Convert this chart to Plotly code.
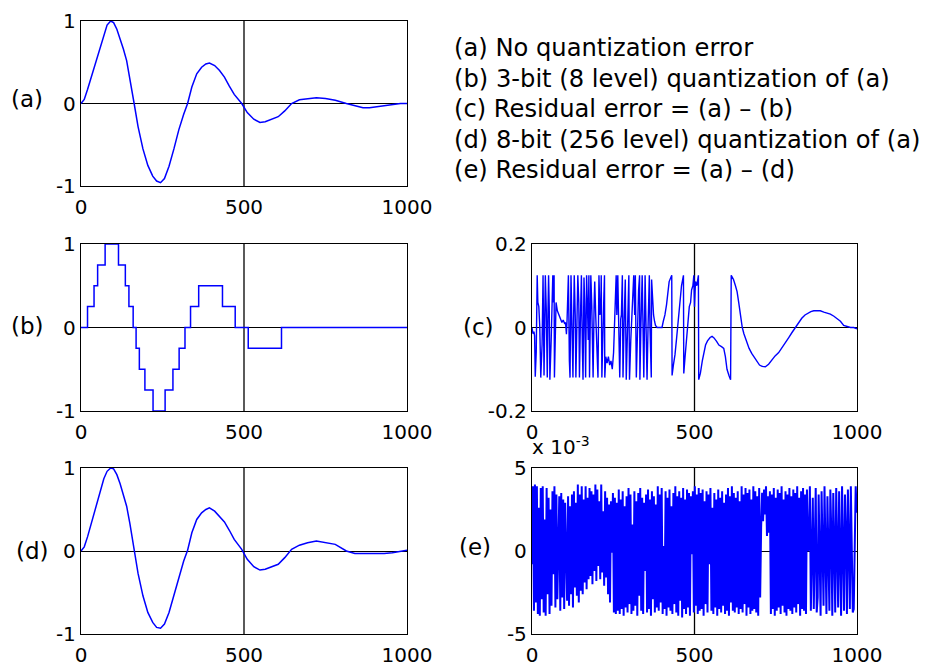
import plotly.graph_objects as go

# ---------------- data ----------------
sample_x = [0, 10, 20, 30, 40, 50, 60, 70, 80, 91, 100, 110, 120, 130, 140, 150, 163, 175, 190, 205,
            220, 232, 244, 256, 270, 285, 300, 315, 327, 340, 355, 370, 383, 394, 410, 425, 440, 455, 470, 493,
            510, 530, 549, 565, 585, 605, 625, 646, 670, 695, 722, 750, 780, 814, 840, 865, 885, 906, 930, 955,
            980, 1000]

signal_a = [0.00, 0.05, 0.17, 0.30, 0.44, 0.58, 0.72, 0.85, 0.95, 1.00, 0.98, 0.90, 0.79, 0.66, 0.52, 0.31, 0.00, -0.28, -0.55, -0.75,
            -0.88, -0.94, -0.96, -0.91, -0.76, -0.55, -0.32, -0.13, 0.00, 0.20, 0.36, 0.44, 0.48, 0.49, 0.46, 0.40, 0.32, 0.21, 0.11, 0.00,
            -0.11, -0.19, -0.23, -0.22, -0.19, -0.16, -0.09, 0.00, 0.045, 0.06, 0.07, 0.06, 0.04, 0.00, -0.03, -0.05, -0.05, -0.04, -0.02, -0.01,
            0.00, 0.00]

signal_d = [0.00, 0.05, 0.17, 0.31, 0.45, 0.60, 0.74, 0.87, 0.96, 1.00, 0.99, 0.92, 0.81, 0.68, 0.54, 0.33, 0.01, -0.27, -0.54, -0.74,
            -0.86, -0.92, -0.93, -0.88, -0.74, -0.53, -0.31, -0.12, 0.01, 0.22, 0.38, 0.46, 0.50, 0.52, 0.48, 0.42, 0.35, 0.25, 0.14, 0.02,
            -0.10, -0.19, -0.23, -0.22, -0.19, -0.16, -0.08, 0.02, 0.07, 0.10, 0.12, 0.10, 0.08, 0.00, -0.03, -0.03, -0.03, -0.03, -0.03, -0.02,
            0.00, 0.01]

# 3-bit quantized signal: level changes (step positions) and levels
step_x = [0, 20, 40, 51, 74, 115, 136, 147, 160, 169, 179, 196, 221, 258, 282, 301, 319, 336, 361, 434, 473, 513, 615, 1000]
step_level = [0, 0.25, 0.5, 0.75, 1.0, 0.75, 0.5, 0.25, 0, -0.25, -0.5, -0.75, -1.0, -0.75, -0.5, -0.25, 0, 0.25, 0.5, 0.25, 0, -0.25, 0, 0]

# residual error (a)-(b) as drawn: (sample, value) pairs
resid3_points = [
    (0, 0.0), (3, -0.015), (6, -0.01), (8, -0.02), (10, -0.118), (13, -0.06), (16, 0.125), (18, 0.06), (21, 0.05), (24, 0.0),
    (27, -0.12), (31, -0.04), (34, 0.125), (35, 0.06), (37, -0.115), (39, 0.0), (41, 0.125), (44, 0.04), (47, -0.12), (49, 0.03),
    (51, 0.125), (53, 0.05), (55, -0.125), (59, -0.03), (62, 0.07), (64, 0.125), (66, 0.06), (68, 0.125), (69, -0.12), (71, 0.0),
    (74, 0.06), (78, 0.04), (83, 0.03), (87, 0.018), (92, 0.012), (96, 0.018), (100, 0.01), (103, 0.012), (106, -0.016), (108, 0.02),
    (110, 0.055), (112, 0.125), (115, -0.08), (117, -0.12), (120, 0.125), (123, 0.0), (126, -0.12), (128, 0.02), (130, 0.125), (133, 0.03),
    (135, -0.12), (138, 0.0), (141, 0.125), (144, 0.06), (146, -0.12), (149, 0.02), (152, 0.125), (155, -0.05), (157, -0.125), (160, 0.12),
    (162, 0.06), (165, -0.12), (168, 0.125), (171, 0.04), (173, -0.03), (175, 0.125), (177, -0.12), (179, 0.0), (181, 0.125), (184, 0.05),
    (186, -0.03), (188, -0.12), (191, 0.05), (193, 0.11), (196, 0.03), (199, -0.06), (203, -0.12), (206, 0.125), (209, 0.03), (212, 0.06),
    (213, 0.125), (215, -0.12), (218, 0.03), (221, 0.07), (223, 0.125), (224, -0.12), (227, -0.07), (231, -0.085), (235, -0.07), (239, -0.09),
    (243, -0.08), (247, -0.1), (251, -0.06), (255, 0.02), (259, 0.125), (261, 0.03), (264, 0.125), (267, 0.0), (270, -0.12), (273, 0.02),
    (275, 0.03), (278, 0.125), (280, -0.12), (283, 0.0), (287, 0.115), (290, -0.125), (293, 0.02), (296, 0.06), (298, 0.125), (300, -0.125),
    (304, -0.03), (308, 0.05), (313, 0.125), (316, 0.03), (318, 0.125), (321, -0.12), (325, 0.02), (328, 0.09), (331, 0.125), (332, -0.125),
    (335, 0.0), (339, 0.125), (341, 0.03), (344, -0.12), (346, 0.0), (348, 0.125), (350, 0.04), (352, -0.03), (354, -0.125), (357, 0.0),
    (359, 0.06), (361, 0.125), (363, 0.0), (365, -0.06), (367, -0.12), (368, 0.115), (371, 0.06), (374, 0.03), (377, 0.015), (380, 0.005),
    (385, 0.0), (390, 0.0), (395, 0.0), (400, 0.0), (404, 0.015), (409, 0.03), (414, 0.055), (418, 0.09), (422, 0.11), (430, 0.125),
    (431, -0.115), (435, -0.09), (440, -0.065), (445, -0.025), (450, 0.02), (455, 0.06), (460, 0.1), (466, 0.125), (467, -0.11), (471, -0.07),
    (475, -0.03), (479, 0.005), (484, 0.05), (488, 0.06), (491, 0.09), (495, 0.1), (498, 0.125), (500, 0.05), (503, 0.11), (507, 0.1),
    (510, 0.125), (512, 0.125), (513, -0.125), (518, -0.11), (524, -0.08), (529, -0.06), (534, -0.042), (540, -0.032), (548, -0.024), (554, -0.021),
    (560, -0.025), (568, -0.033), (575, -0.042), (583, -0.046), (590, -0.05), (595, -0.07), (600, -0.10), (606, -0.115), (611, -0.125), (613, 0.125),
    (620, 0.115), (626, 0.10), (631, 0.086), (636, 0.06), (641, 0.03), (647, 0.0), (652, -0.015), (660, -0.035), (668, -0.05), (676, -0.062),
    (684, -0.072), (692, -0.082), (700, -0.09), (708, -0.093), (718, -0.094), (728, -0.088), (738, -0.078), (748, -0.068), (759, -0.06), (770, -0.048),
    (780, -0.036), (790, -0.024), (800, -0.012), (810, 0.0), (820, 0.012), (830, 0.022), (840, 0.03), (848, 0.034), (858, 0.038), (867, 0.04),
    (877, 0.04), (887, 0.04), (898, 0.037), (908, 0.035), (918, 0.032), (929, 0.027), (939, 0.022), (949, 0.015), (959, 0.005), (969, 0.002),
    (980, 0.0), (990, 0.0), (1000, -0.003)]
resid3_x = [p[0] for p in resid3_points]
resid3 = [p[1] for p in resid3_points]

# residual error (a)-(d), in units of 1e-3, one value every 3 samples
resid8_step = 3
resid8_e3 = [
    -0.8, 3.9, -3.6, 4.0, -3.1, 3.9, -3.8, 2.6, -3.9, 3.8,
    -2.9, 3.9, -3.7, 1.9, -3.9, 3.8, -2.6, 3.2, -3.8, 2.5,
    -3.3, 3.6, -1.4, 3.9, -3.4, 3.4, -2.9, 0.2, 3.3, -3.6,
    3.5, -2.8, 3.1, -3.5, 2.9, -0.1, -3.0, 3.3, -3.3, 2.7,
    -2.6, 3.4, -3.4, 3.6, -2.2, 2.9, -2.7, 4.0, -3.1, 3.4,
    -2.4, 3.9, -2.6, 3.1, -1.9, 3.9, -2.3, 3.2, -1.7, 3.8,
    -1.5, 3.6, -2.0, 3.4, -1.2, 4.0, -1.8, 3.7, -0.9, 3.0,
    -1.7, 4.0, -1.3, 2.4, -2.1, 3.6, -1.6, 3.2, -2.6, 2.8,
    -3.1, 3.0, -0.1, 3.5, -3.7, 3.2, -3.8, 2.9, -3.6, 3.7,
    -3.8, 3.1, -3.5, 3.6, -3.9, 2.7, -3.4, 3.3, -3.7, 3.8,
    -3.2, 3.4, -3.8, 1.6, -3.6, 3.6, -3.3, 3.0, -3.9, 3.5,
    -2.7, 3.8, -3.6, 3.2, -3.8, 2.9, -1.2, 3.4, -3.7, 3.7,
    -3.5, 3.1, -3.9, 3.6, -2.9, 3.3, -3.7, 2.8, -3.4, 3.9,
    -3.6, 3.4, -3.1, 3.8, -3.8, 0.3, -3.5, 3.6, -3.9, 3.2,
    -3.4, 3.7, -3.6, 2.7, -3.8, 3.5, -3.2, 3.9, -3.7, 3.3,
    -3.9, 3.6, -3.0, 3.2, -4.0, 3.8, -3.5, 3.1, -3.8, 3.7,
    -3.4, 3.5, -3.9, 3.3, -0.2, 3.6, -3.7, 3.9, -3.3, 3.4,
    -3.8, 3.8, -3.6, 3.5, -3.5, 3.7, -3.9, 3.0, -3.2, 3.6,
    -3.7, 3.4, -0.8, 3.8, -3.6, 2.6, -3.8, 3.5, -3.4, 3.1,
    -3.9, 3.7, -3.5, 3.2, -3.7, 3.6, -3.3, 2.9, -3.8, 3.4,
    -3.6, 3.8, -3.9, 3.3, -3.1, 3.9, -3.6, 3.5, -3.7, 3.2,
    -3.4, 3.6, -3.8, 3.0, -3.5, 3.9, -3.7, 3.4, -3.2, 3.8,
    -3.9, 3.5, -3.4, 3.7, -3.8, 3.1, -3.6, 3.9, -3.5, 3.6,
    -3.7, 3.3, -3.9, 3.8, -2.8, 1.4, 3.5, 1.8, 3.7, 2.2,
    3.9, 0.9, 3.3, 1.1, 3.6, -3.8, 3.4, -3.5, 3.8, -3.9,
    3.2, -3.6, 3.7, -3.4, 3.5, -3.8, 3.9, -3.3, 3.1, -3.7,
    3.6, -3.9, 3.4, -3.5, 3.8, -3.6, 3.3, -3.8, 3.7, -3.4,
    3.5, -3.7, 3.9, -3.2, 3.2, -3.9, 3.6, -3.5, 3.8, -3.6,
    3.4, -3.8, 3.7, 0.0, 0.1, 3.9, -3.6, -0.1, 3.2, -3.5,
    0.0, 3.8, -3.7, -2.8, 3.4, 0.2, -3.9, 3.6, 0.0, -3.3,
    3.9, 0.6, -3.8, 3.3, 0.4, -3.6, 3.7, 1.0, -3.9, 3.5,
    0.3, -3.7, 3.8, 0.8, -3.4, 3.6, 0.5, -3.9, 3.9, 0.7,
    -3.6, 3.4, 1.0, -3.8, 3.7, 0.4, -3.5, 3.9, 0.9, -3.7,
    -3.5, 0.6, 3.9, 2.3]
resid8_x = [i * resid8_step for i in range(len(resid8_e3))]

x_ticks = [0, 500, 1000]
x_tick_text = ["0", "500", "1000"]
legend_lines = [
    "(a) No quantization error",
    "(b) 3-bit (8 level) quantization of (a)",
    "(c) Residual error = (a) \u2013 (b)",
    "(d) 8-bit (256 level) quantization of (a)",
    "(e) Residual error = (a) \u2013 (d)",
]

# ---------------- figure ----------------
W, H = 933, 666
OFF = 8  # the page places the figure 8 px from the window's top-left corner
FONT = "DejaVu Sans"
BLUE = "#0000ff"


def fx(px):
    return (px - OFF) / W


def fy(py):
    return 1 - (py - OFF) / H


fig = go.Figure()


def add_line(x, y, ax, shape="linear", width=1.5):
    fig.add_trace(go.Scatter(x=x, y=y, mode="lines", xaxis="x" + ax, yaxis="y" + ax,
                             line=dict(color=BLUE, width=width, shape=shape), showlegend=False,
                             hoverinfo="skip"))


add_line(sample_x, signal_a, "")
add_line(step_x, step_level, "2", shape="hv")
add_line(resid3_x, resid3, "3", width=1.4)
add_line(sample_x, signal_d, "4")
add_line(resid8_x, resid8_e3, "5", width=2.0)

col1 = [fx(81), fx(407)]
col2 = [fx(532), fx(857)]
row1 = [fy(186), fy(21)]
row2 = [fy(411), fy(244)]
row3 = [fy(634), fy(468)]

tickfont = dict(family=FONT, size=20, color="black")


def xaxis(domain, anchor):
    return dict(domain=domain, anchor=anchor, range=[0, 1000], tickvals=x_ticks, ticktext=x_tick_text,
                showline=True, mirror=True, linecolor="black", linewidth=1.3, showgrid=False,
                zeroline=False, ticks="", tickfont=tickfont, fixedrange=True, automargin=False,
                ticklabelstandoff=3)


def yaxis(domain, anchor, lim, labels):
    return dict(domain=domain, anchor=anchor, range=[-lim, lim], tickvals=[-lim, 0, lim], ticktext=labels,
                showline=True, mirror=True, linecolor="black", linewidth=1.3, showgrid=False,
                zeroline=True, zerolinecolor="black", zerolinewidth=1.3, ticks="", tickfont=tickfont,
                fixedrange=True, automargin=False)


layout_axes = dict(
    xaxis=xaxis(col1, "y"), yaxis=yaxis(row1, "x", 1, ["-1", "0", "1"]),
    xaxis2=xaxis(col1, "y2"), yaxis2=yaxis(row2, "x2", 1, ["-1", "0", "1"]),
    xaxis3=xaxis(col2, "y3"), yaxis3=yaxis(row2, "x3", 0.2, ["-0.2", "0", "0.2"]),
    xaxis4=xaxis(col1, "y4"), yaxis4=yaxis(row3, "x4", 1, ["-1", "0", "1"]),
    xaxis5=xaxis(col2, "y5"), yaxis5=yaxis(row3, "x5", 5, ["-5", "0", "5"]),
)

shapes = []
for ax, lim in [("", 1), ("2", 1), ("3", 0.2), ("4", 1), ("5", 5)]:
    shapes.append(dict(type="line", xref="x" + ax, yref="y" + ax, x0=500, x1=500, y0=-lim, y1=lim,
                       line=dict(color="black", width=1.3), layer="below"))

annotations = []
for text, px, py in [("(a)", 27, 99), ("(b)", 27, 326), ("(c)", 479, 327), ("(d)", 32, 551), ("(e)", 475, 547)]:
    annotations.append(dict(text=text, x=fx(px), y=fy(py), xref="paper", yref="paper",
                            xanchor="center", yanchor="middle", showarrow=False,
                            font=dict(family=FONT, size=23, color="black")))

for i, line in enumerate(legend_lines):
    py = 48 + i * 30.5
    annotations.append(dict(text=line, x=fx(452), y=fy(py), xref="paper", yref="paper",
                            xanchor="left", yanchor="middle", showarrow=False,
                            font=dict(family=FONT, size=24.2, color="black")))

annotations.append(dict(text="x 10<sup>-3</sup>", x=fx(530), y=fy(446), xref="paper", yref="paper",
                        xanchor="left", yanchor="middle", showarrow=False,
                        font=dict(family=FONT, size=20, color="black")))

fig.update_layout(width=W, height=H, autosize=False, margin=dict(l=0, r=0, t=0, b=0, autoexpand=False),
                  paper_bgcolor="white", plot_bgcolor="white", showlegend=False,
                  shapes=shapes, annotations=annotations, **layout_axes)

fig.write_html("out.html")
